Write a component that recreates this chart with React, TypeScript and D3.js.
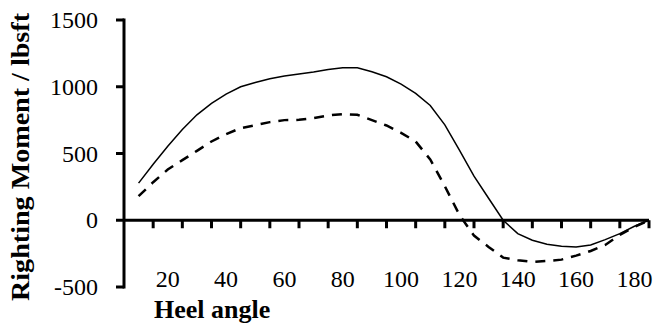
import React, { useRef, useEffect } from "react";
import * as d3 from "d3";

// heel angle (deg) and righting moment (lbsft)
const angles = [10, 15, 20, 25, 30, 35, 40, 45, 50, 55, 60, 65, 70, 75, 80, 85, 90, 95, 100, 105, 110, 115, 120, 125, 130, 135, 140, 145, 150, 155, 160, 165, 170, 175, 180, 185];
const solidMoment = [278, 420, 555, 680, 790, 875, 945, 1000, 1032, 1060, 1080, 1095, 1110, 1130, 1142, 1142, 1112, 1075, 1020, 950, 860, 715, 525, 330, 165, 0, -100, -150, -180, -195, -200, -185, -145, -100, -45, 0];
const dashedMoment = [180, 285, 380, 450, 520, 590, 645, 690, 712, 735, 750, 752, 765, 785, 795, 790, 750, 710, 655, 590, 455, 255, 40, -115, -200, -280, -300, -312, -305, -295, -265, -230, -185, -110, -50, 0];

const xLabels = [20, 40, 60, 80, 100, 120, 140, 160, 180];
const xTicks = [15, 25, 35, 45, 55, 65, 75, 85, 95, 105, 115, 125, 135, 145, 155, 165, 175, 185];
const yTicks = [-500, 0, 500, 1000, 1500];

const Chart = () => {
  const ref = useRef<SVGSVGElement>(null);

  useEffect(() => {
    const svg = d3.select(ref.current);
    svg.selectAll("*").remove();
    const font = "'Liberation Serif', 'Times New Roman', serif";

    const x = d3.scaleLinear().domain([5, 185]).range([124, 649]);
    const y = d3.scaleLinear().domain([-500, 1500]).range([287, 20]);

    const line = d3
      .line<number>()
      .x((d, i) => x(angles[i]))
      .y((d) => y(d));

    svg
      .append("path")
      .datum(solidMoment)
      .attr("d", line)
      .attr("fill", "none")
      .attr("stroke", "#000")
      .attr("stroke-width", 1.5);

    svg
      .append("path")
      .datum(dashedMoment)
      .attr("d", line)
      .attr("fill", "none")
      .attr("stroke", "#000")
      .attr("stroke-width", 2.5)
      .attr("stroke-dasharray", "10,8");

    // y axis
    const x0 = x(5);
    svg
      .append("line")
      .attr("x1", x0)
      .attr("x2", x0)
      .attr("y1", y(1500) - 1.5)
      .attr("y2", y(-500) + 1.5)
      .attr("stroke", "#000")
      .attr("stroke-width", 3);

    svg
      .selectAll(".ytick")
      .data(yTicks)
      .enter()
      .append("line")
      .attr("class", "ytick")
      .attr("x1", x0 - 8)
      .attr("x2", x0)
      .attr("y1", (d) => y(d))
      .attr("y2", (d) => y(d))
      .attr("stroke", "#000")
      .attr("stroke-width", 3);

    svg
      .selectAll(".ylab")
      .data(yTicks)
      .enter()
      .append("text")
      .attr("class", "ylab")
      .attr("x", 98)
      .attr("y", (d) => y(d) + 8)
      .attr("text-anchor", "end")
      .attr("font-size", 24)
      .attr("font-family", font)
      .text((d) => String(d));

    // x axis along zero
    const y0 = y(0);
    svg
      .append("line")
      .attr("x1", x0)
      .attr("x2", x(185))
      .attr("y1", y0)
      .attr("y2", y0)
      .attr("stroke", "#000")
      .attr("stroke-width", 3);

    svg
      .selectAll(".xtick")
      .data(xTicks)
      .enter()
      .append("line")
      .attr("class", "xtick")
      .attr("x1", (d) => x(d))
      .attr("x2", (d) => x(d))
      .attr("y1", y0)
      .attr("y2", y0 + 8)
      .attr("stroke", "#000")
      .attr("stroke-width", 3);

    svg
      .selectAll(".xlab")
      .data(xLabels)
      .enter()
      .append("text")
      .attr("class", "xlab")
      .attr("x", (d) => x(d))
      .attr("y", 287)
      .attr("text-anchor", "middle")
      .attr("font-size", 24)
      .attr("font-family", font)
      .text((d) => d);

    svg
      .append("text")
      .attr("x", 154)
      .attr("y", 318)
      .attr("font-size", 26)
      .attr("font-weight", "bold")
      .attr("font-family", font)
      .text("Heel angle");

    svg
      .append("text")
      .attr("transform", "translate(29,157) rotate(-90)")
      .attr("text-anchor", "middle")
      .attr("font-size", 26)
      .attr("font-weight", "bold")
      .attr("font-family", font)
      .attr("textLength", 288)
      .attr("lengthAdjust", "spacingAndGlyphs")
      .text("Righting Moment / lbsft");
  }, []);

  return (
    <svg
      ref={ref}
      width={656}
      height={325}
      style={{ position: "absolute", left: 0, top: 0, background: "#fff" }}
    />
  );
};

export default function App() {
  return <Chart />;
}
